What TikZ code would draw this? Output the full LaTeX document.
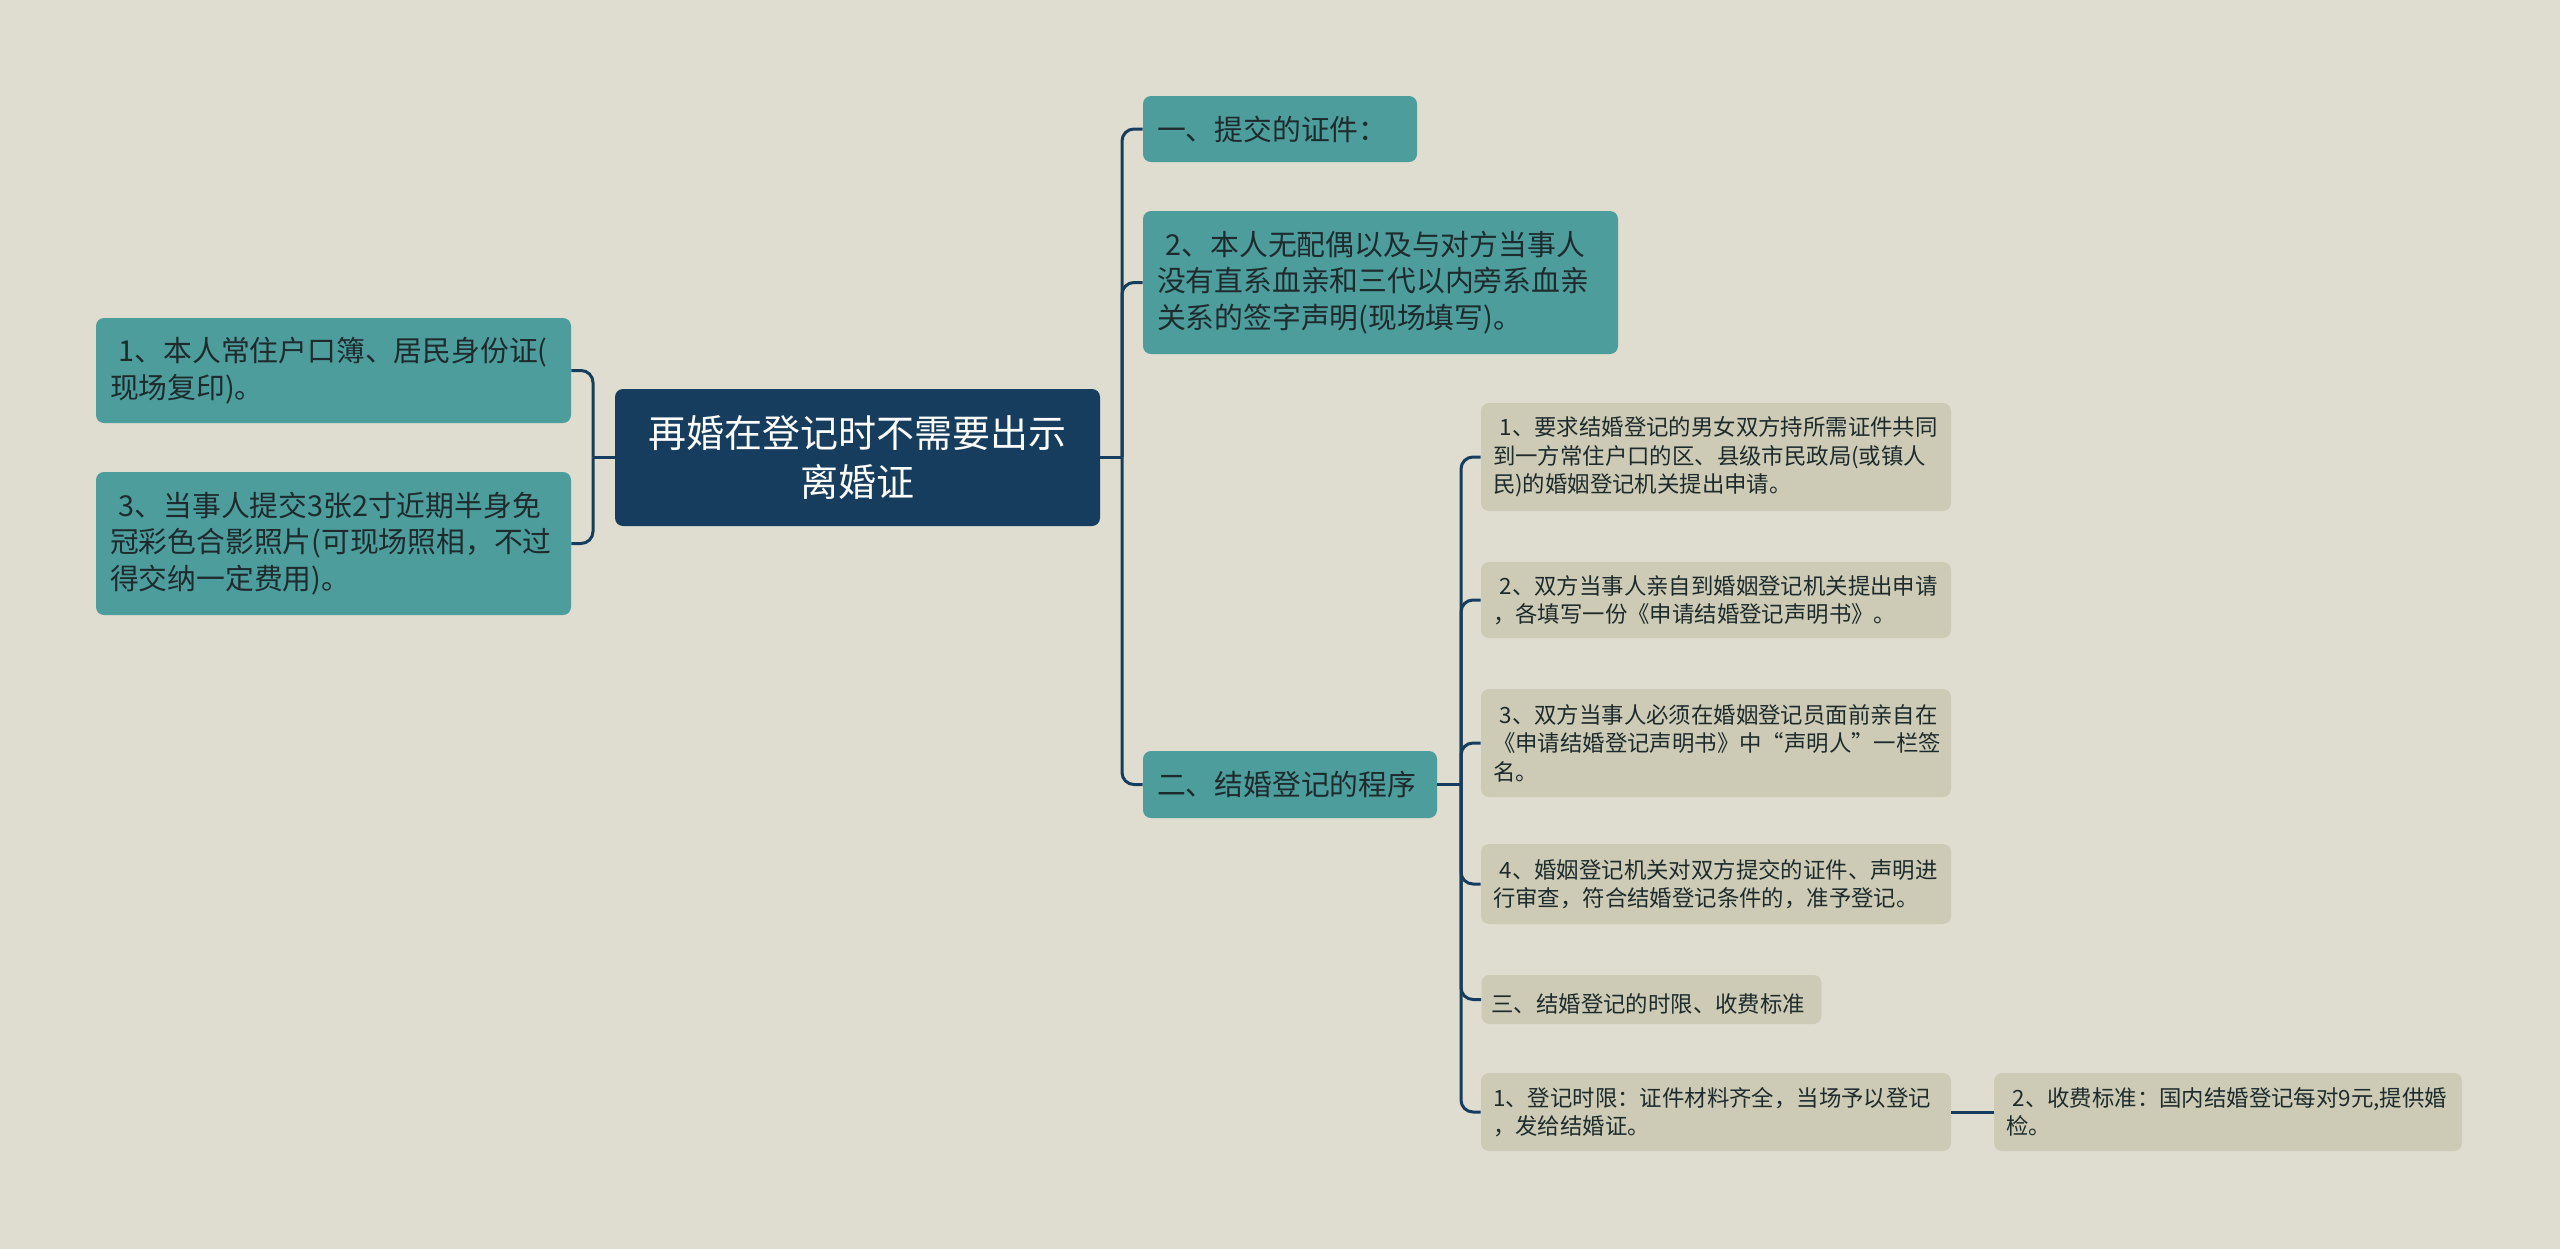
\documentclass[tikz,border=0pt]{standalone}
\usepackage{fontspec}
\setmainfont{Noto Sans CJK SC}
\usepackage{tikz}
\definecolor{mapbg}{HTML}{DFDDCF}
\definecolor{mapnavy}{HTML}{173D5E}
\definecolor{mapteal}{HTML}{4D9D9D}
\definecolor{mapsand}{HTML}{CDCBB5}
\definecolor{mapink}{HTML}{1E2B2D}

\begin{document}
\begin{tikzpicture}[x=0.5pt,y=-0.5pt,
  rootbox/.style={fill=mapnavy,text=white,rounded corners=4pt,align=center,
    font=\fontsize{19}{24.5}\selectfont,minimum width=242.5pt,minimum height=68.5pt},
  topicbox/.style={fill=mapteal,text=mapink,rounded corners=4pt,align=left,
    font=\fontsize{14.4}{18.3}\selectfont,inner xsep=7pt},
  leafbox/.style={fill=mapsand,text=mapink,rounded corners=4pt,align=left,
    font=\fontsize{11.2}{14.2}\selectfont,inner xsep=6pt},
  conn/.style={draw=mapnavy,line width=1.5pt,rounded corners=6pt}]
  \fill[mapbg] (0,0) rectangle (2560,1249);
  \useasboundingbox (0,0) rectangle (2560,1249);

  % centre
  \node[rootbox] (root) at (857.5,457.5) {再婚在登记时不需要出示\\离婚证};

  % left side
  \node[topicbox,text width=223.5pt,minimum height=52.5pt] (l1) at (333.5,370.5)
    {\hspace{0.3em}1、本人常住户口簿、居民身份证(\\现场复印)。};
  \node[topicbox,text width=223.5pt,minimum height=71.5pt] (l2) at (333.5,543.5)
    {\hspace{0.3em}3、当事人提交3张2寸近期半身免\\冠彩色合影照片(可现场照相，不过\\得交纳一定费用)。};

  % right side
  \node[topicbox,text width=123pt,minimum height=33pt] (r1) at (1280,129) {一、提交的证件：};
  \node[topicbox,text width=223.5pt,minimum height=71.5pt] (r2) at (1380.5,282.5)
    {\hspace{0.3em}2、本人无配偶以及与对方当事人\\没有直系血亲和三代以内旁系血亲\\关系的签字声明(现场填写)。};
  \node[topicbox,text width=133pt,minimum height=33.5pt] (r3) at (1290,784.5) {二、结婚登记的程序};

  % steps
  \node[leafbox,text width=223pt,minimum height=54pt] (s1) at (1716,457)
    {\hspace{0.3em}1、要求结婚登记的男女双方持所需证件共同\\到一方常住户口的区、县级市民政局(或镇人\\民)的婚姻登记机关提出申请。};
  \node[leafbox,text width=223pt,minimum height=38pt] (s2) at (1716,600)
    {\hspace{0.3em}2、双方当事人亲自到婚姻登记机关提出申请\\，各填写一份《申请结婚登记声明书》。};
  \node[leafbox,text width=223pt,minimum height=54pt] (s3) at (1716,743)
    {\hspace{0.3em}3、双方当事人必须在婚姻登记员面前亲自在\\《申请结婚登记声明书》中“声明人”一栏签\\名。};
  \node[leafbox,text width=223pt,minimum height=40pt] (s4) at (1716,884)
    {\hspace{0.3em}4、婚姻登记机关对双方提交的证件、声明进\\行审查，符合结婚登记条件的，准予登记。};
  \node[leafbox,text width=160pt,inner xsep=5pt,minimum height=24.5pt] (s5) at (1651.5,999.5)
    {\hspace{0.3em}三、结婚登记的时限、收费标准};
  \node[leafbox,text width=223pt,minimum height=39pt] (s6) at (1716,1112)
    {1、登记时限：证件材料齐全，当场予以登记\\，发给结婚证。};
  \node[leafbox,text width=222pt,minimum height=39pt] (s7) at (2228,1112)
    {\hspace{0.3em}2、收费标准：国内结婚登记每对9元,提供婚\\检。};

  % connectors
  \coordinate (lt) at (593,457.5);
  \coordinate (rt) at (1122,457.5);
  \coordinate (st) at (1461,784.5);
  \draw[conn] (root.west) -- (lt);
  \foreach \n in {l1,l2} \draw[conn] (lt) |- (\n.east);
  \draw[conn] (root.east) -- (rt);
  \foreach \n in {r1,r2,r3} \draw[conn] (rt) |- (\n.west);
  \draw[conn] (r3.east) -- (st);
  \foreach \n in {s1,s2,s3,s4,s5,s6} \draw[conn] (st) |- (\n.west);
  \draw[conn] (s6.east) -- (s7.west);
\end{tikzpicture}
\end{document}
